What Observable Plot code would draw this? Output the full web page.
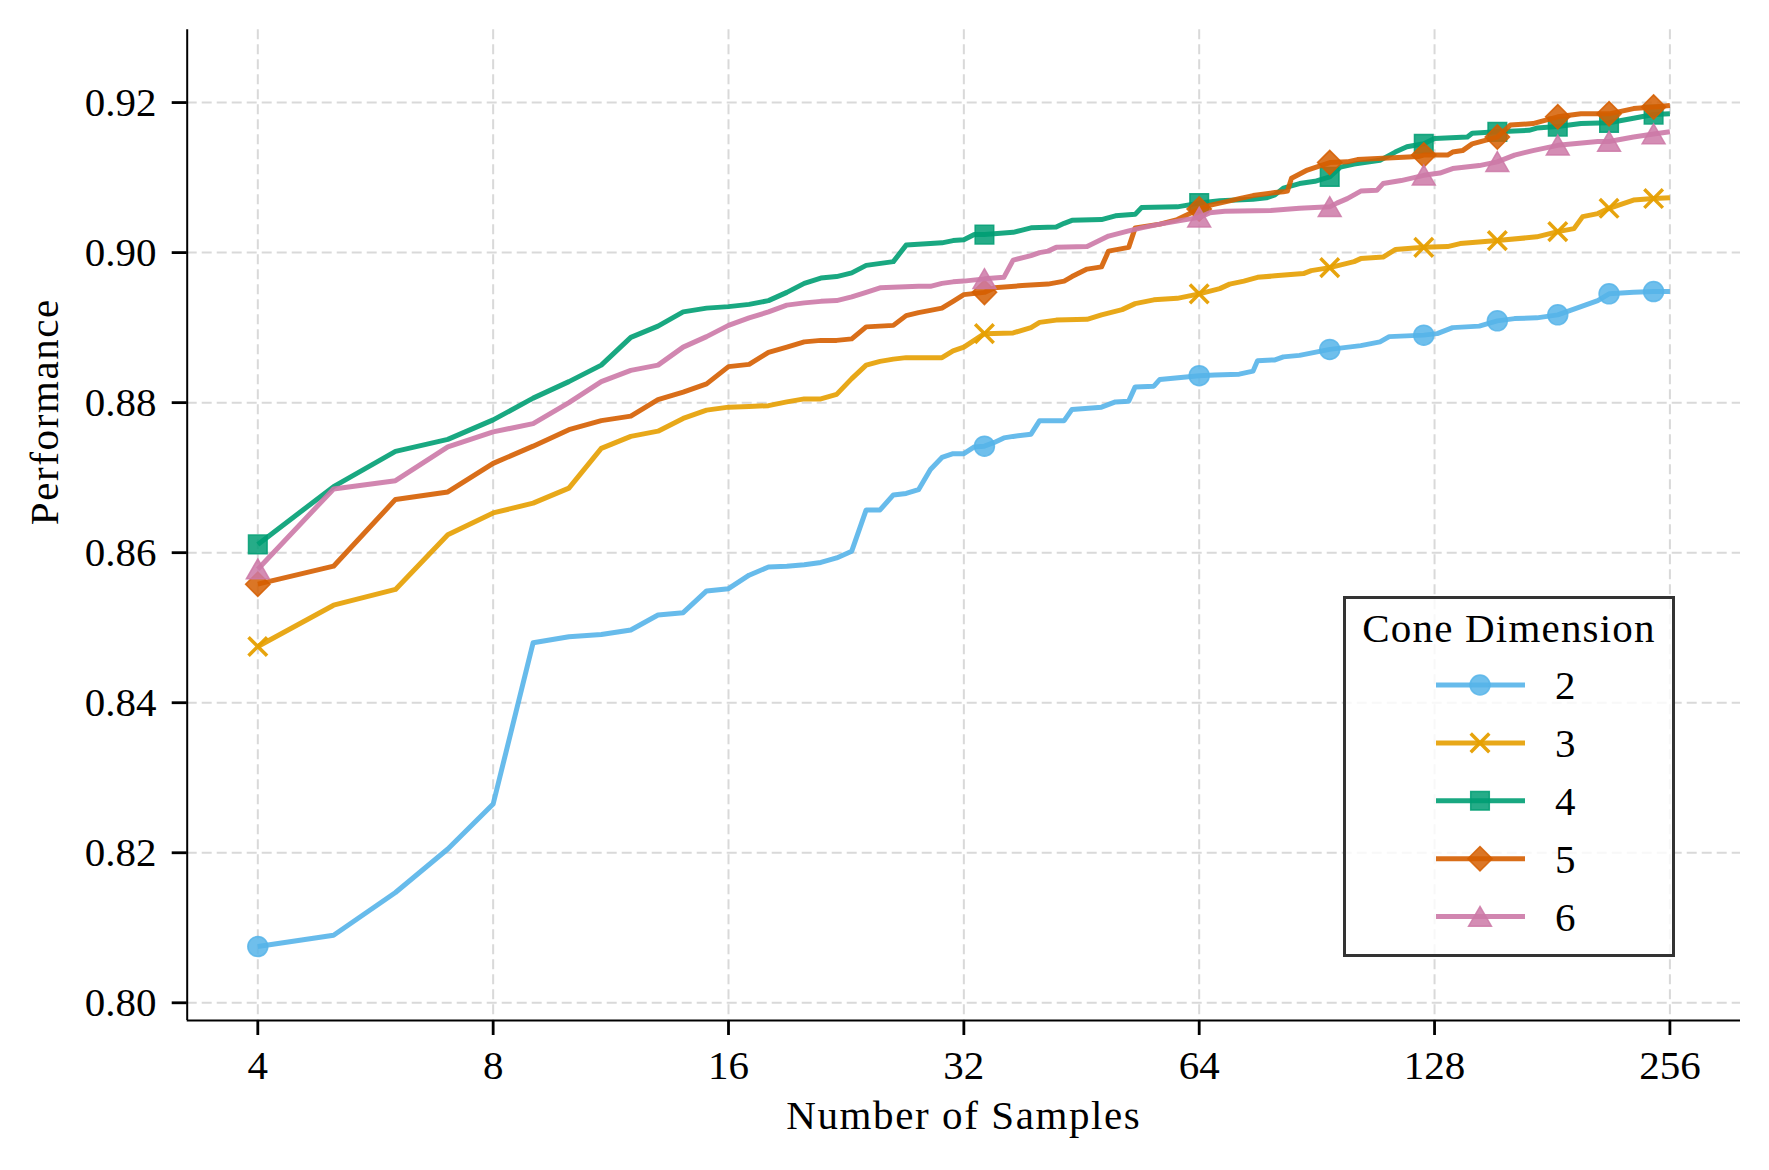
<!DOCTYPE html>
<html>
<head>
<meta charset="utf-8">
<script src="https://cdn.jsdelivr.net/npm/d3@7"></script>
<script src="https://cdn.jsdelivr.net/npm/@observablehq/plot@0.6"></script>
<style>
  body { margin: 0; background: #fff; }
  #wrap { position: relative; width: 1769px; height: 1170px; font-family: "Liberation Serif", serif; }
  #wrap svg text { font-family: "Liberation Serif", serif; }
</style>
</head>
<body>
<div id="wrap"></div>
<script>
// ---- data ----
const dimLabels = ["2", "3", "4", "5", "6"];
const markerX = [4, 34, 64, 94, 124, 154, 184, 214, 244];
const xTicks = [4, 8, 16, 32, 64, 128, 256];
const yTicks = [0.80, 0.82, 0.84, 0.86, 0.88, 0.90, 0.92];
const xLabel = "Number of Samples";
const yLabel = "Performance";
const legendTitle = "Cone Dimension";

const dim2 = [[4,.8075],[5,.8090],[6,.8147],[7,.8205],[8,.8265],[9,.8480],[10,.8488],[11,.8491],[12,.8497],[13,.8517],[14,.8520],[15,.8549],[16,.8552],[17,.8570],[18,.8581],[19,.8582],[20,.8584],[21,.8587],[22,.8593],[23,.8602],[24,.8657],[25,.8657],[26,.8677],[27,.8679],[28,.8684],[29,.8711],[30,.8727],[31,.8732],[32,.8732],[33,.8741],[34,.8742],[35,.8747],[36,.8753],[37,.8755],[39,.8758],[40,.8776],[43,.8776],[44,.8791],[48,.8794],[50,.8801],[52,.8802],[53,.8821],[56,.8822],[57,.8831],[64,.8836],[67,.8837],[72,.8838],[75,.8842],[76,.8856],[80,.8857],[82,.8861],[86,.8863],[94,.8871],[103,.8876],[109,.8881],[112,.8888],[124,.8890],[129,.8892],[135,.8900],[146,.8902],[154,.8909],[162,.8912],[173,.8913],[184,.8917],[197,.8928],[207,.8936],[214,.8945],[230,.8947],[244,.8948],[256,.8948]];

const dim3 = [[4,.8475],[5,.8530],[6,.8551],[7,.8624],[8,.8653],[9,.8666],[10,.8686],[11,.8739],[12,.8755],[13,.8762],[14,.8779],[15,.8790],[16,.8794],[17,.8795],[18,.8796],[19,.8801],[20,.8805],[21,.8805],[22,.8811],[23,.8832],[24,.8850],[25,.8855],[26,.8858],[27,.8860],[30,.8860],[31,.8869],[32,.8874],[34,.8892],[37,.8893],[39,.8900],[40,.8907],[42,.8910],[46,.8911],[48,.8917],[51,.8924],[53,.8932],[56,.8937],[60,.8939],[64,.8945],[68,.8952],[70,.8958],[73,.8962],[76,.8967],[80,.8969],[87,.8972],[89,.8976],[94,.8980],[101,.8988],[103,.8992],[110,.8994],[114,.9004],[124,.9007],[133,.9008],[138,.9012],[154,.9016],[173,.9021],[184,.9028],[193,.9032],[198,.9048],[207,.9052],[214,.9059],[230,.9070],[244,.9072],[256,.9073]];

const dim4 = [[4,.8611],[5,.8688],[6,.8735],[7,.8751],[8,.8777],[9,.8806],[10,.8828],[11,.8850],[12,.8887],[13,.8902],[14,.8921],[15,.8926],[16,.8928],[17,.8931],[18,.8936],[19,.8947],[20,.8959],[21,.8966],[22,.8968],[23,.8973],[24,.8983],[26,.8988],[27,.9010],[29,.9012],[30,.9013],[31,.9016],[32,.9017],[33,.9024],[34,.9024],[37,.9027],[38,.9030],[39,.9033],[42,.9034],[43,.9039],[44,.9043],[48,.9044],[50,.9049],[53,.9051],[54,.9060],[60,.9061],[64,.9066],[68,.9069],[75,.9071],[78,.9073],[80,.9077],[82,.9086],[86,.9092],[90,.9095],[94,.9101],[97,.9114],[101,.9118],[109,.9123],[114,.9134],[118,.9141],[124,.9145],[128,.9152],[141,.9154],[143,.9159],[154,.9161],[169,.9163],[173,.9166],[184,.9168],[197,.9172],[214,.9173],[230,.9179],[244,.9184],[256,.9185]];

const dim5 = [[4,.8558],[5,.8582],[6,.8671],[7,.8681],[8,.8719],[9,.8742],[10,.8764],[11,.8776],[12,.8782],[13,.8804],[14,.8814],[15,.8825],[16,.8848],[17,.8851],[18,.8867],[19,.8874],[20,.8881],[21,.8883],[22,.8883],[23,.8885],[24,.8901],[26,.8903],[27,.8916],[28,.8920],[29,.8923],[30,.8926],[31,.8935],[32,.8944],[34,.8947],[35,.8953],[38,.8956],[41,.8958],[42,.8960],[43,.8962],[44,.8968],[46,.8978],[48,.8981],[49,.9002],[52,.9007],[53,.9033],[57,.9038],[60,.9044],[64,.9058],[66,.9063],[70,.9069],[72,.9072],[75,.9076],[80,.9080],[82,.9081],[83,.9082],[84,.9099],[88,.9110],[94,.9120],[99,.9121],[102,.9124],[122,.9128],[124,.9130],[133,.9130],[135,.9134],[139,.9136],[143,.9145],[154,.9154],[160,.9170],[171,.9172],[184,.9181],[197,.9185],[214,.9185],[230,.9192],[244,.9194],[256,.9196]];

const dim6 = [[4,.8578],[5,.8685],[6,.8696],[7,.8741],[8,.8761],[9,.8772],[10,.8800],[11,.8828],[12,.8843],[13,.8850],[14,.8874],[15,.8888],[16,.8903],[17,.8913],[18,.8921],[19,.8930],[20,.8933],[21,.8935],[22,.8936],[23,.8941],[24,.8947],[25,.8953],[28,.8955],[29,.8955],[30,.8959],[31,.8961],[32,.8962],[34,.8965],[36,.8967],[37,.8990],[39,.8996],[40,.9000],[41,.9002],[42,.9007],[46,.9008],[49,.9022],[52,.9029],[54,.9033],[57,.9038],[60,.9042],[64,.9047],[66,.9053],[69,.9055],[79,.9056],[86,.9059],[94,.9061],[96,.9066],[99,.9072],[103,.9082],[108,.9083],[110,.9092],[116,.9096],[124,.9103],[130,.9106],[135,.9112],[146,.9116],[154,.9121],[162,.9130],[171,.9136],[184,.9143],[207,.9148],[214,.9148],[230,.9154],[244,.9158],[256,.9161]];

const seriesData = [dim2, dim3, dim4, dim5, dim6];

// ---- styles ----
const colors = ["#56B4E9", "#E69F00", "#009E73", "#D55E00", "#CC79A7"];
const symbols = ["circle", "times", "square", "diamond2", "triangle"];
const symbolR = [10, 8.5, 10.5, 11, 8.5];
const symbolDy = [0, 0, 0, 0, 3];

const xDomain = [4 * Math.pow(2, -0.3), 256 * Math.pow(2, 0.3)];
const yDomain = [0.79764, 0.9297];
const FS = 41;
const LW = 5;

const rows = seriesData.map((s, i) => s.map(([x, y]) => ({dim: dimLabels[i], x, y})));

const gridStyle = {stroke: "#d9d9d9", strokeOpacity: 1, strokeWidth: 2, strokeDasharray: "10,5"};

const seriesMarks = rows.flatMap((r, i) => {
  const isStroke = symbols[i] === "times";
  return [
    Plot.line(r, {x: "x", y: "y", stroke: colors[i], strokeWidth: LW, strokeOpacity: 0.9, strokeLinejoin: "round", strokeLinecap: "butt"}),
    Plot.dot(r.filter(d => markerX.includes(d.x)), {
      x: "x", y: "y", symbol: () => symbols[i], r: symbolR[i], dy: symbolDy[i],
      fill: isStroke ? "none" : colors[i], fillOpacity: 0.85,
      stroke: colors[i], strokeOpacity: isStroke ? 0.95 : 0.85, strokeWidth: isStroke ? 3.5 : 1.5
    })
  ];
});

const chart = Plot.plot({
  width: 1769,
  height: 1170,
  marginLeft: 186.7,
  marginRight: 29,
  marginTop: 29.3,
  marginBottom: 150,
  style: {fontFamily: "'Liberation Serif', serif", fontSize: FS + "px", background: "white", color: "black"},
  x: {type: "log", base: 2, domain: xDomain},
  y: {domain: yDomain},
  symbol: {type: "identity"},
  marks: [
    Plot.gridX(xTicks, gridStyle),
    Plot.gridY(yTicks, gridStyle),
    ...seriesMarks,
    Plot.ruleX([xDomain[0]], {stroke: "black", strokeWidth: 2}),
    Plot.ruleY([yDomain[0]], {stroke: "black", strokeWidth: 2}),
    Plot.axisX(xTicks, {tickSize: 15, tickPadding: 14, tickFormat: d => String(d), fontSize: FS, label: null, strokeWidth: 2.8}),
    Plot.axisY(yTicks, {tickSize: 15, tickPadding: 15.6, tickFormat: d3.format(".2f"), fontSize: FS, label: null, strokeWidth: 2.8}),
    Plot.text([xLabel], {text: d => d, frameAnchor: "bottom", dy: 108, fontSize: FS}),
    Plot.text([yLabel], {text: d => d, frameAnchor: "left", dx: -142, rotate: -90, fontSize: FS})
  ]
});

const wrap = document.getElementById("wrap");
wrap.appendChild(chart);
d3.select(chart).style("position", "absolute").style("left", "0px").style("top", "0px");
d3.select(chart).selectAll("text").filter(function() { const t = this.textContent; return t === xLabel || t === yLabel; })
  .style("letter-spacing", "1.6px");

// ---- legend ----
const legW = 332, legH = 361;
const leg = d3.select(wrap).append("svg")
  .attr("width", legW).attr("height", legH)
  .style("position", "absolute").style("left", "1343px").style("top", "596px");
leg.append("rect").attr("x", 1.5).attr("y", 1.5).attr("width", legW - 3).attr("height", legH - 3)
  .attr("fill", "white").attr("fill-opacity", 0.8).attr("stroke", "#333").attr("stroke-width", 3);
leg.append("text").attr("x", legW / 2).attr("y", 46).attr("text-anchor", "middle")
  .style("font-size", FS + "px").style("letter-spacing", "1.2px").text(legendTitle);
const d3sym = {circle: d3.symbolCircle, times: d3.symbolTimes, square: d3.symbolSquare, diamond2: d3.symbolDiamond2, triangle: d3.symbolTriangle};
dimLabels.forEach((lab, i) => {
  const cy = 89 + i * 57.9;
  const g = leg.append("g");
  g.append("line").attr("x1", 93).attr("x2", 182).attr("y1", cy).attr("y2", cy)
    .attr("stroke", colors[i]).attr("stroke-width", LW).attr("stroke-opacity", 0.9);
  const isStroke = symbols[i] === "times";
  g.append("path")
    .attr("d", d3.symbol(d3sym[symbols[i]], Math.PI * symbolR[i] * symbolR[i])())
    .attr("transform", `translate(137,${cy + symbolDy[i]})`)
    .attr("fill", isStroke ? "none" : colors[i]).attr("fill-opacity", 0.85)
    .attr("stroke", colors[i]).attr("stroke-opacity", isStroke ? 0.95 : 0.85).attr("stroke-width", isStroke ? 3.5 : 1.5);
  g.append("text").attr("x", 212).attr("y", cy + 14).style("font-size", FS + "px").text(lab);
});
</script>
</body>
</html>
